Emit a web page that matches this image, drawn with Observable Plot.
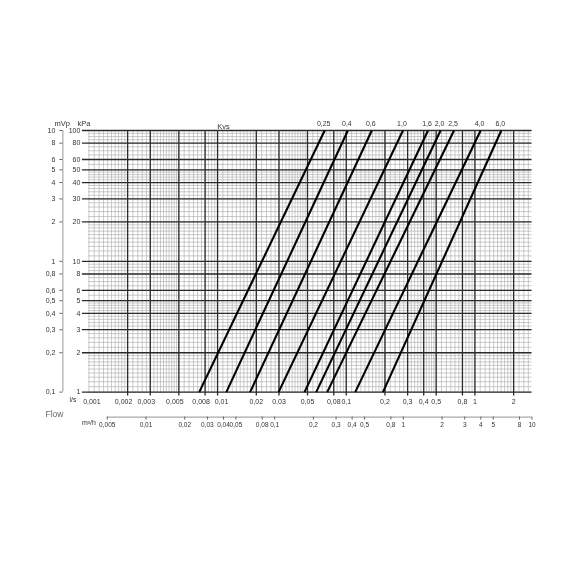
<!DOCTYPE html>
<html>
<head>
<meta charset="utf-8">
<script src="https://cdn.jsdelivr.net/npm/d3@7"></script>
<script src="https://cdn.jsdelivr.net/npm/@observablehq/plot@0.6"></script>
<style>
  html, body { margin: 0; padding: 0; background: #fff; }
  #chart svg { display: block; will-change: transform; }
</style>
</head>
<body>
<div id="chart"></div>
<script>
// ---- Data ----
const lsTicks  = [0.001, 0.002, 0.003, 0.005, 0.008, 0.01, 0.02, 0.03, 0.05, 0.08, 0.1, 0.2, 0.3, 0.4, 0.5, 0.8, 1, 2];
const lsLabels = ["0,001","0,002","0,003","0,005","0,008","0,01","0,02","0,03","0,05","0,08","0,1","0,2","0,3","0,4","0,5","0,8","1","2"];

const m3hTicks  = [0.005, 0.01, 0.02, 0.03, 0.04, 0.05, 0.08, 0.1, 0.2, 0.3, 0.4, 0.5, 0.8, 1, 2, 3, 4, 5, 8, 10];
const m3hLabels = ["0,005","0,01","0,02","0,03","0,04","0,05","0,08","0,1","0,2","0,3","0,4","0,5","0,8","1","2","3","4","5","8","10"];
const m3hPerLs = 3.6;

const kPaTicks  = [1, 2, 3, 4, 5, 6, 8, 10, 20, 30, 40, 50, 60, 80, 100];
const kPaLabels = ["1","2","3","4","5","6","8","10","20","30","40","50","60","80","100"];
const mVpLabels = ["0,1","0,2","0,3","0,4","0,5","0,6","0,8","1","2","3","4","5","6","8","10"];

const dpRange = [1, 100]; // kPa

const kvsValues = [0.25, 0.4, 0.6, 1.0, 1.6, 2.0, 2.5, 4.0, 6.0];
const kvsLabels = ["0,25","0,4","0,6","1,0","1,6","2,0","2,5","4,0","6,0"];
const flowAt1kPa   = [0.0072, 0.0117, 0.0179, 0.0298, 0.0474, 0.0584, 0.0711, 0.1175, 0.193]; // l/s
const flowAt100kPa = [0.068, 0.103, 0.158, 0.276, 0.432, 0.541, 0.688, 1.108, 1.604];      // l/s

// ---- Derived tables ----
const kvsTable = kvsValues.map((k, i) => ({
  kvs: k, label: kvsLabels[i], q1: flowAt1kPa[i], q100: flowAt100kPa[i]
}));
const lsTable = lsTicks.map((v, i) => ({ v, label: lsLabels[i] }));
const m3hTable = m3hTicks.map((v, i) => ({ v: v / m3hPerLs, label: m3hLabels[i] }));
const m3hTicksLs = m3hTable.map(d => d.v);
const xDomain = [lsTicks[0], m3hTicks[m3hTicks.length - 1] / m3hPerLs];

// log-paper subdivisions: 1-2 by 0.1, 2-5 by 0.2, 5-10 by 0.5
function logPaper(lo, hi) {
  const out = [];
  for (let e = Math.floor(Math.log10(lo)) - 1; e <= Math.ceil(Math.log10(hi)); e++) {
    const b = Math.pow(10, e);
    for (let k = 10; k < 100; k += (k < 20 ? 1 : k < 50 ? 2 : 5)) {
      const v = (k / 10) * b;
      if (v >= lo * 0.9999 && v <= hi * 1.0001) out.push(v);
    }
  }
  return out;
}
const minorX = logPaper(xDomain[0], xDomain[1]);
const minorY = logPaper(dpRange[0], dpRange[1]);
const heavyX = lsTicks.filter(d => d > xDomain[0]);

const font = "'Liberation Sans', Arial, Helvetica, sans-serif";
const ink = "#333";

// label nudges for the crowded l/s labels (as in the reference)
const lsText = (filter, dx) => Plot.text(lsTable, {
  filter, x: "v", text: "label", frameAnchor: "bottom", lineAnchor: "top", dy: 6.5, dx, fill: ink
});

const chart = Plot.plot({
  width: 576,
  height: 576,
  marginLeft: 88.4,
  marginRight: 44.5,
  marginTop: 130,
  marginBottom: 184.4,
  style: { fontFamily: font, fontSize: "7px", color: ink, background: "#fff" },
  x: { type: "log", domain: xDomain, axis: null },
  y: { type: "log", domain: dpRange, axis: null },
  marks: [
    // fine grid
    Plot.ruleX(minorX, { stroke: "#a8a8a8", strokeWidth: 0.6 }),
    Plot.ruleY(minorY, { stroke: "#a8a8a8", strokeWidth: 0.6 }),
    // heavy grid (extending as ticks)
    Plot.ruleX(heavyX, { stroke: "#2b2b2b", strokeWidth: 1.3, insetBottom: -4 }),
    Plot.ruleY(kPaTicks, { stroke: "#2b2b2b", strokeWidth: 1.3, insetLeft: -6.5 }),
    // Kvs lines
    Plot.link(kvsTable, {
      x1: "q1", y1: () => dpRange[0], x2: "q100", y2: () => dpRange[1],
      stroke: "#000", strokeWidth: 2.1
    }),
    Plot.text(kvsTable, {
      x: "q100", y: () => dpRange[1], text: "label", dy: -7, dx: -1,
      fill: ink, fontSize: 7
    }),
    Plot.text(["Kvs"], { frameAnchor: "top", dx: -87, dy: -7, fill: ink, fontSize: 7.5 }),
    // kPa axis labels
    Plot.text(kPaTicks, {
      y: d => d, text: (d, i) => kPaLabels[i], frameAnchor: "left", textAnchor: "end", dx: -8.5, fill: ink
    }),
    // mVp axis
    Plot.ruleX([xDomain[0]], { dx: -26, stroke: "#9a9a9a", strokeWidth: 1 }),
    Plot.axisY({
      anchor: "left", ticks: kPaTicks, tickSize: 3, tickPadding: 0, dx: -26,
      stroke: "#666", tickFormat: () => "", label: null
    }),
    Plot.text(kPaTicks, {
      y: d => d, text: (d, i) => mVpLabels[i], frameAnchor: "left", textAnchor: "end", dx: -33.5, fill: ink
    }),
    Plot.text(["mVp"], { frameAnchor: "top-left", dx: -34.4, dy: -10, fill: ink, fontSize: 7.5 }),
    Plot.text(["kPa"], { frameAnchor: "top-left", dx: -11.4, dy: -10, fill: ink, fontSize: 7.5 }),
    // l/s axis labels
    lsText(d => d.v === lsTicks[0], 3),
    lsText(d => d.v > lsTicks[0] && d.v < 0.01, -4),
    lsText(d => d.v === 0.01, 4),
    lsText(d => d.v > 0.01, 0),
    Plot.text(["l/s"], { frameAnchor: "bottom-left", dx: -12.4, dy: 9.5, textAnchor: "end", fill: ink, fontSize: 7 }),
    // m³/h axis
    Plot.ruleY([0], {
      y: () => dpRange[0], x1: () => m3hTicksLs[0], x2: () => m3hTicksLs[m3hTicksLs.length - 1],
      dy: 25, stroke: "#777", strokeWidth: 0.8
    }),
    Plot.axisX({
      anchor: "bottom", ticks: m3hTicksLs, tickSize: 3, tickPadding: 0, dy: 25,
      stroke: "#666", tickFormat: () => "", label: null
    }),
    Plot.text(m3hTable, {
      x: "v", text: "label", frameAnchor: "bottom", lineAnchor: "top", dy: 30, fill: ink, fontSize: 6.5
    }),
    Plot.text(["Flow"], { frameAnchor: "bottom-left", dx: -43.4, dy: 25, textAnchor: "start", fill: "#666", fontSize: 8.5 }),
    Plot.text(["m³/h"], { frameAnchor: "bottom-left", dx: 0, dy: 33, textAnchor: "middle", fill: ink, fontSize: 7 })
  ]
});

document.getElementById("chart").appendChild(chart);
</script>
</body>
</html>
